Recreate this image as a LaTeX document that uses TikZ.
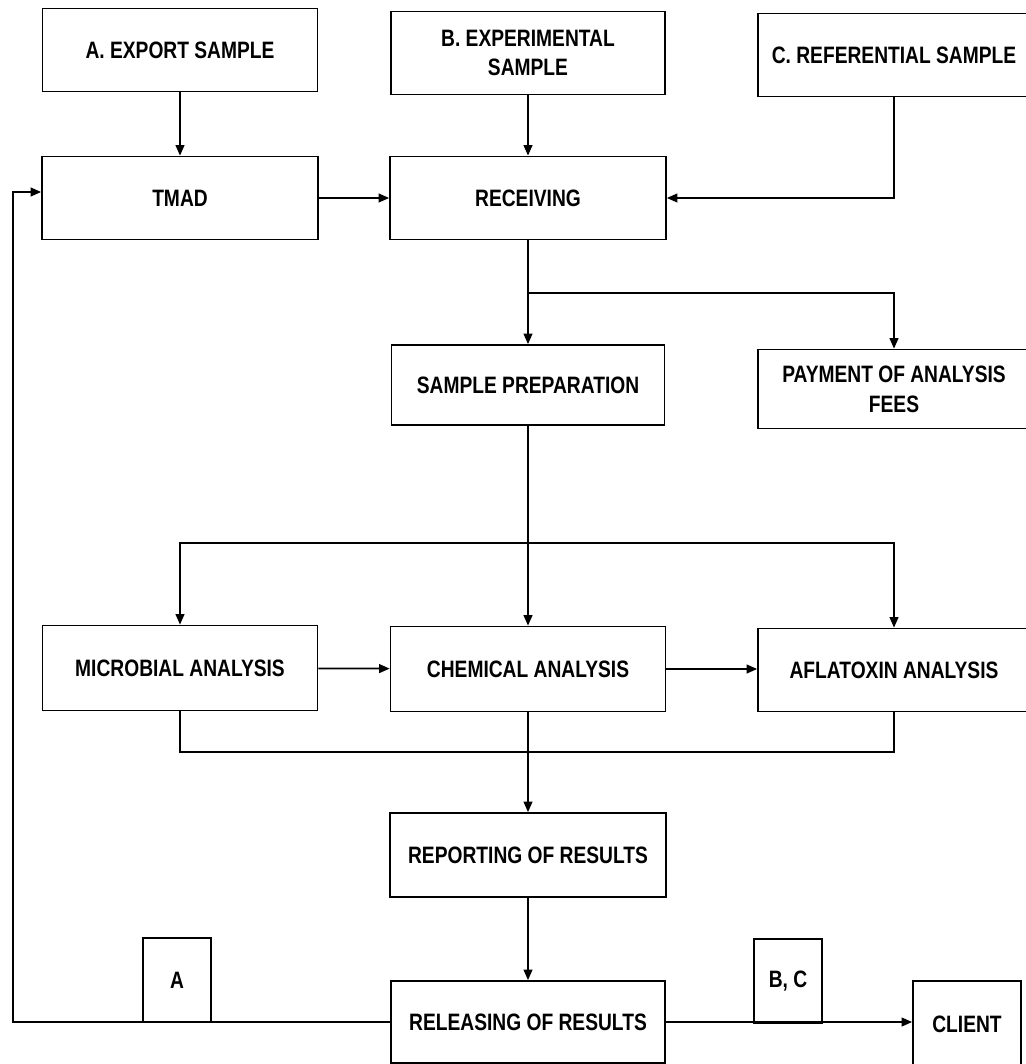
\documentclass[tikz,border=0pt]{standalone}
\usepackage{fontspec}
\setmainfont{Liberation Sans}[FakeStretch=0.81]
\usetikzlibrary{arrows.meta}
\tikzset{
	box/.style={draw, line width=1pt, minimum width=#1, minimum height=1.66cm, inner sep=0pt, align=center, font=\fontsize{13.5}{17}\selectfont\bfseries},
	tag/.style={draw, line width=1pt, minimum width=1.36cm, minimum height=1.68cm, inner sep=0pt, font=\fontsize{13.5}{17}\selectfont\bfseries},
	arr/.style={line width=1pt, -{Triangle[length=6pt,width=5pt]}},
	link/.style={line width=1pt}
}

\begin{document}
\begin{tikzpicture}[x=0.02cm, y=-0.02cm]
			%%%%% START %%%%%
			\useasboundingbox (0, 0) rectangle (1025, 1064);
			
			\node[box=5.5cm] (expA) at (180, 50) {A. EXPORT SAMPLE};
			\node[box=5.48cm] (expB) at (528, 53) {B. EXPERIMENTAL\\SAMPLE};
			\node[box=5.44cm] (refC) at (894, 55) {C. REFERENTIAL SAMPLE};
			
			\node[box=5.52cm] (tmad) at (180, 198) {TMAD};
			\node[box=5.52cm] (recv) at (528, 198) {RECEIVING};
			
			\node[box=5.46cm, minimum height=1.6cm] (prep) at (528, 385) {SAMPLE PREPARATION};
			\node[box=5.44cm, minimum height=1.58cm] (pay) at (894, 389) {PAYMENT OF ANALYSIS\\FEES};
			
			\node[box=5.5cm, minimum height=1.7cm] (micro) at (180, 668) {MICROBIAL ANALYSIS};
			\node[box=5.5cm, minimum height=1.7cm] (chem) at (528, 669) {CHEMICAL ANALYSIS};
			\node[box=5.44cm] (afla) at (894, 670) {AFLATOXIN ANALYSIS};
			
			\node[box=5.52cm, minimum height=1.68cm] (report) at (528, 855) {REPORTING OF RESULTS};
			\node[box=5.48cm, minimum height=1.64cm] (release) at (528, 1022) {RELEASING OF RESULTS};
			
			\node[tag] (tagA) at (177, 980) {A};
			\node[tag] (tagBC) at (788, 981) {B, C};
			\node[box=2.16cm, minimum height=1.72cm] (client) at (967, 1024) {CLIENT};
			
			% samples in
			\draw[arr] (expA) -- (tmad);
			\draw[arr] (expB) -- (recv);
			\draw[arr] (refC.south) |- (recv.east);
			\draw[arr] (tmad) -- (recv);
			
			% receiving splits
			\coordinate (fork1) at (528, 293);
			\draw[arr] (recv) -- (prep);
			\draw[arr] (fork1) -| (pay);
			
			% analyses
			\coordinate (fork2) at (528, 543);
			\draw[arr] (prep) -- (chem);
			\draw[arr] (fork2) -| (micro);
			\draw[arr] (fork2) -| (afla);
			\draw[arr] (micro) -- (chem);
			\draw[arr] (chem.east) -- (afla.west |- chem.east);
			
			\coordinate (join) at (528, 752);
			\draw[link] (micro) |- (join) -| (afla);
			\draw[arr] (chem) -- (report);
			\draw[arr] (report) -- (release);
			
			% results out
			\coordinate (loopT) at (13, 192);
			\draw[arr] (release.west) -| (loopT) -- (tmad.west |- loopT);
			\draw[arr] (release.east) -- (client.west |- release.east);
			
			%%%%% END %%%%%
\end{tikzpicture}
\end{document}
